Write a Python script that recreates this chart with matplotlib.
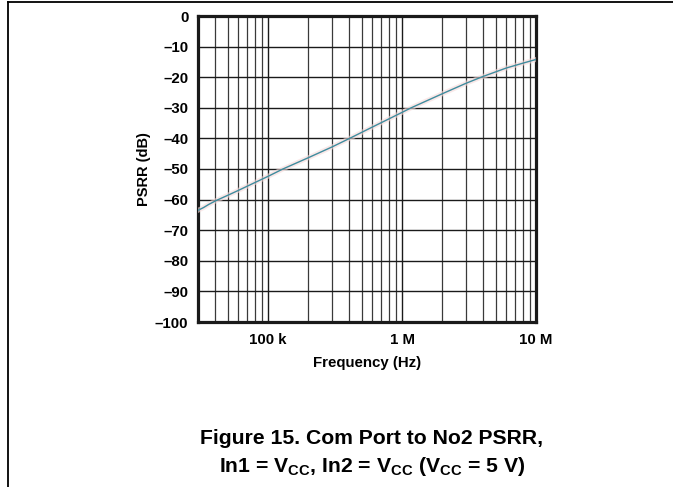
import matplotlib
matplotlib.use("Agg")
import matplotlib.pyplot as plt
from matplotlib.ticker import FixedLocator, NullFormatter
from matplotlib.lines import Line2D

plt.rcParams['font.family'] = ['Liberation Sans', 'DejaVu Sans']
plt.rcParams['font.weight'] = 'bold'
plt.rcParams['mathtext.fontset'] = 'custom'
plt.rcParams['mathtext.rm'] = 'Liberation Sans:bold'
plt.rcParams['mathtext.it'] = 'Liberation Sans:bold'
plt.rcParams['mathtext.bf'] = 'Liberation Sans:bold'
plt.rcParams['mathtext.default'] = 'rm'

# Data
freq_hz = [30e3, 33e3, 36e3, 41e3, 50e3, 60e3, 80e3, 100e3, 129e3, 200e3, 300e3,
           406e3, 600e3, 800e3, 1.0e6, 1.17e6, 2e6, 3e6, 4e6, 6e6, 8e6, 10e6]
psrr_db = [-63.5, -62.6, -61.6, -60.3, -58.6, -57.0, -54.4, -52.4, -50.0, -46.3, -42.8,
           -40.0, -36.3, -33.6, -31.5, -30.0, -25.4, -22.0, -19.8, -17.0, -15.4, -14.2]

xtick_vals = [1e5, 1e6, 1e7]
xtick_labels = ['100 k', '1 M', '10 M']
ytick_vals = [0, -10, -20, -30, -40, -50, -60, -70, -80, -90, -100]
ytick_labels = ['0', '–10', '–20', '–30', '–40', '–50', '–60', '–70', '–80', '–90', '–100']

fig = plt.figure(figsize=(6.73, 4.87), dpi=100)
ax = fig.add_axes([198 / 673, 1 - 322 / 487, 338 / 673, 306 / 487])

ax.set_xscale('log')
ax.set_xlim(30e3, 10e6)
ax.set_ylim(-100, 0)

# faint halo then the trace
ax.plot(freq_hz, psrr_db, color='#f7dada', lw=3.5, alpha=0.6, zorder=3)
ax.plot(freq_hz, psrr_db, color='#3f8c9e', lw=1.0, zorder=4)

ax.xaxis.set_major_locator(FixedLocator(xtick_vals))
ax.set_xticklabels(xtick_labels)
minors = [m * 10 ** e for e in range(4, 7) for m in range(2, 10)]
minors = [v for v in minors if 30e3 < v < 10e6]
ax.xaxis.set_minor_locator(FixedLocator(minors))
ax.xaxis.set_minor_formatter(NullFormatter())
ax.set_yticks(ytick_vals)
ax.set_yticklabels(ytick_labels)

ax.grid(True, which='major', color='#1a1a1a', lw=1.0)
ax.grid(True, which='minor', axis='x', color='#3a3a3a', lw=0.9)
ax.set_axisbelow(True)

ax.tick_params(which='both', length=0)
ax.tick_params(axis='y', pad=7, labelsize=10.8)
ax.tick_params(axis='x', pad=8, labelsize=10.8)
for lab in ax.get_xticklabels() + ax.get_yticklabels():
    lab.set_fontweight('bold')

for s in ax.spines.values():
    s.set_linewidth(2.3)
    s.set_color('#1a1a1a')

ax.set_xlabel('Frequency (Hz)', fontsize=10.8, fontweight='bold')
ax.set_ylabel('PSRR (dB)', fontsize=10.5, fontweight='bold')
ax.xaxis.set_label_coords(0.5, (322 - 363) / 306)
ax.xaxis.label.set_va('center')
ax.yaxis.set_label_coords((144 - 198) / 338, 0.5)
ax.yaxis.label.set_va('center')

fig.text(372 / 673, 1 - 439 / 487, 'Figure 15. Com Port to No2 PSRR,',
         ha='center', va='center', fontsize=15.2, fontweight='bold')
fig.text(372 / 673, 1 - 467 / 487, 'In1 = V$_{CC}$, In2 = V$_{CC}$ (V$_{CC}$ = 5 V)',
         ha='center', va='center', fontsize=15.2, fontweight='bold')

# page frame lines (top and left)
fig.add_artist(Line2D([8 / 673, 1], [1 - 2 / 487, 1 - 2 / 487], transform=fig.transFigure,
                      color='black', lw=1.3))
fig.add_artist(Line2D([8 / 673, 8 / 673], [0, 1 - 2 / 487], transform=fig.transFigure,
                      color='black', lw=1.3))

fig.savefig('out.png', dpi=100)
